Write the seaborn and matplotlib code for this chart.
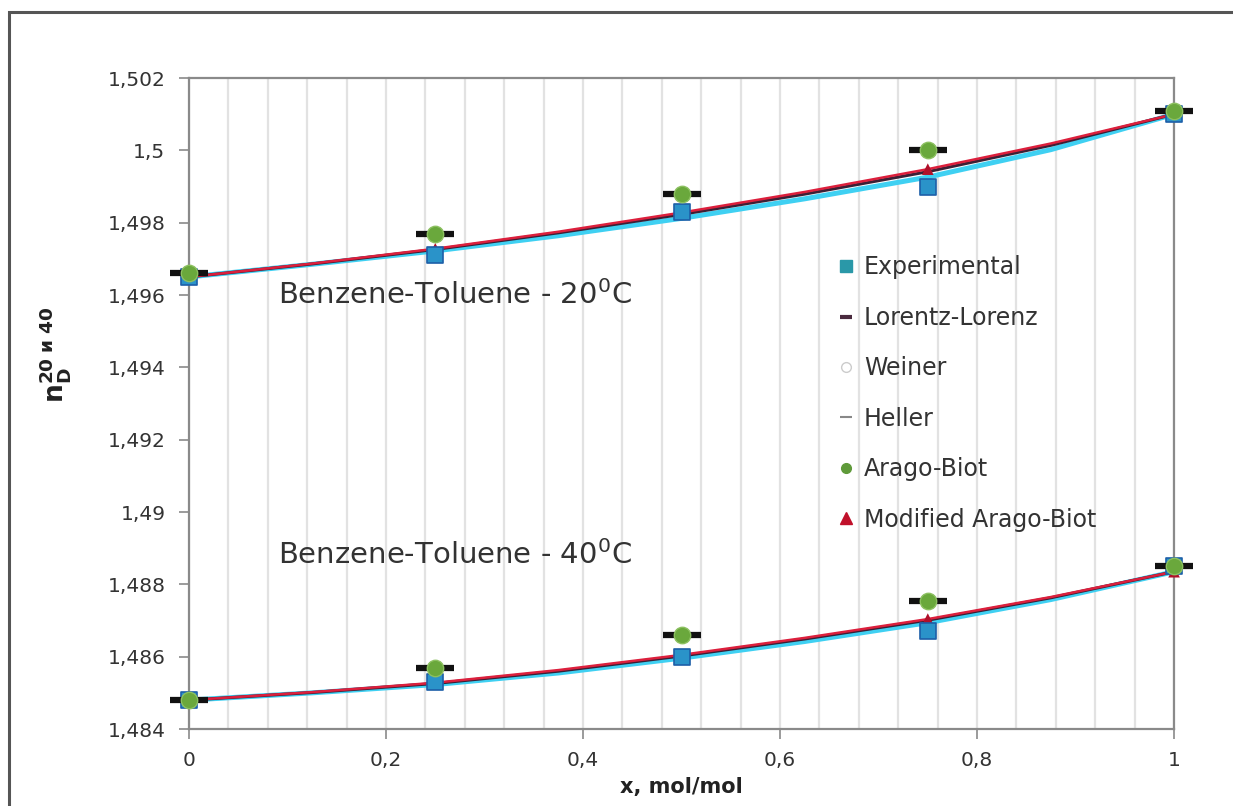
import matplotlib
matplotlib.use("Agg")
import matplotlib.pyplot as plt
import seaborn as sns
import pandas as pd
from matplotlib.lines import Line2D
from matplotlib.patches import Rectangle
from matplotlib.ticker import FixedLocator, FuncFormatter, MultipleLocator

# ---- data -------------------------------------------------------------
x_points = [0.0, 0.25, 0.5, 0.75, 1.0]

exp_20 = [1.4965, 1.4971, 1.4983, 1.4990, 1.5010]
arago_20 = [1.4966, 1.4977, 1.4988, 1.5000, 1.5011]
exp_40 = [1.4848, 1.4853, 1.4860, 1.4867, 1.4885]
arago_40 = [1.4848, 1.4857, 1.4866, 1.48755, 1.4885]

mod_arago_pts_20 = [1.4965, 1.49728, 1.49828, 1.49948, 1.5010]
mod_arago_pts_40 = [1.4848, 1.48528, 1.48605, 1.48704, 1.48835]

x_curve = [0.0, 0.125, 0.25, 0.375, 0.5, 0.625, 0.75, 0.875, 1.0]
mod_arago_20 = [1.4965, 1.49687, 1.49728, 1.49775, 1.49828, 1.49885, 1.49948, 1.50019, 1.5010]
lorentz_20 = [1.4965, 1.49686, 1.49726, 1.49772, 1.49823, 1.49879, 1.49941, 1.50014, 1.5010]
weiner_20 = [1.4965, 1.49685, 1.49722, 1.49764, 1.49812, 1.49866, 1.49926, 1.50002, 1.5010]
mod_arago_40 = [1.4848, 1.48502, 1.48528, 1.48563, 1.48605, 1.48652, 1.48704, 1.48765, 1.48835]
lorentz_40 = [1.4848, 1.48501, 1.48526, 1.48560, 1.48602, 1.48649, 1.48701, 1.48763, 1.48835]
weiner_40 = [1.4848, 1.48500, 1.48523, 1.48555, 1.48596, 1.48642, 1.48694, 1.48758, 1.48835]

y_ticks = [1.484, 1.486, 1.488, 1.490, 1.492, 1.494, 1.496, 1.498, 1.500, 1.502]
x_ticks = [0.0, 0.2, 0.4, 0.6, 0.8, 1.0]

series_names = ["Experimental", "Lorentz-Lorenz", "Weiner", "Heller",
                "Arago-Biot", "Modified Arago-Biot"]

# ---- style ------------------------------------------------------------
sns.set_theme(style="white")
plt.rcParams["font.family"] = ["DejaVu Sans"]
plt.rcParams["mathtext.fontset"] = "dejavusans"

C_EXP = "#2a93c9"
C_CYAN = "#3fd0f2"
C_DARK = "#3b2035"
C_RED = "#dc1f3c"
C_GREEN = "#6aa83c"
C_AXIS = "#8a8a8a"
C_TEXT = "#333333"

fig = plt.figure(figsize=(12.33, 8.06), dpi=100)
ax = fig.add_axes([0.1533, 0.0955, 0.7989, 0.8077])

curves = pd.DataFrame({"x": x_curve,
                       "w20": weiner_20, "l20": lorentz_20, "m20": mod_arago_20,
                       "w40": weiner_40, "l40": lorentz_40, "m40": mod_arago_40})
pts = pd.DataFrame({"x": x_points, "e20": exp_20, "a20": arago_20,
                    "e40": exp_40, "a40": arago_40,
                    "t20": mod_arago_pts_20, "t40": mod_arago_pts_40})

for t in ("20", "40"):
    sns.lineplot(data=curves, x="x", y="w" + t, ax=ax, color=C_CYAN, lw=3.6,
                 sort=False, estimator=None, zorder=3)
    sns.lineplot(data=curves, x="x", y="l" + t, ax=ax, color=C_DARK, lw=2.2,
                 sort=False, estimator=None, zorder=4)
    sns.lineplot(data=curves, x="x", y="m" + t, ax=ax, color=C_RED, lw=1.8,
                 sort=False, estimator=None, zorder=5)
    # model triangles sit on the fitted curve
    sns.scatterplot(data=pts, x="x", y="t" + t, ax=ax, marker="^", s=70,
                    color="#b0102a", edgecolor="none", zorder=6)
    # experimental squares
    sns.scatterplot(data=pts, x="x", y="e" + t, ax=ax, marker="s", s=130,
                    color=C_EXP, edgecolor="#1d5fa8", linewidth=1.2, zorder=7)
    # horizontal bars behind the Arago-Biot points
    ax.plot(pts["x"], pts["a" + t], ls="none", marker="_", ms=27, mew=4.5,
            color="#111111", zorder=8, clip_on=False)
    sns.scatterplot(data=pts, x="x", y="a" + t, ax=ax, marker="o", s=140,
                    color=C_GREEN, edgecolor="#8cc060", linewidth=1.0, zorder=9)

# markers at x = 0 and x = 1 overhang the plot frame
for coll in ax.collections:
    coll.set_clip_on(False)

# ---- axes -------------------------------------------------------------
ax.set_xlim(0, 1)
ax.set_ylim(1.484, 1.502)

ax.xaxis.set_major_locator(FixedLocator(x_ticks))
ax.yaxis.set_major_locator(FixedLocator(y_ticks))
ax.xaxis.set_minor_locator(MultipleLocator(0.04))


def comma_fmt(v, _pos):
    s = f"{v:.3f}".rstrip("0").rstrip(".")
    return s.replace(".", ",")


ax.xaxis.set_major_formatter(FuncFormatter(comma_fmt))
ax.yaxis.set_major_formatter(FuncFormatter(comma_fmt))

ax.grid(False)
ax.grid(which="both", axis="x", color="#e2e2e2", lw=1.6, zorder=0)
ax.set_axisbelow(True)

for side in ("left", "bottom", "top", "right"):
    ax.spines[side].set_visible(True)
    ax.spines[side].set_color(C_AXIS)
    ax.spines[side].set_linewidth(1.6)

ax.tick_params(which="major", direction="out", length=7, width=1.2,
               color=C_AXIS, labelsize=14.5, labelcolor=C_TEXT,
               left=True, bottom=True)
ax.tick_params(axis="y", pad=10)
ax.tick_params(axis="x", pad=9)
ax.tick_params(which="minor", length=0)

ax.set_xlabel("x, mol/mol", fontsize=15, fontweight="bold", color="#222222",
              labelpad=5)
ax.set_ylabel("")
fig.text(0.045, 0.56, r"$\mathbf{n_D^{20\ и\ 40}}$", rotation=90,
         fontsize=19, color="#222222", ha="center", va="center")

ax.text(0.09, 1.4960, "Benzene-Toluene - 20$^{0}$C", fontsize=21,
        color=C_TEXT, va="center", ha="left", zorder=10)
ax.text(0.09, 1.4888, "Benzene-Toluene - 40$^{0}$C", fontsize=21,
        color=C_TEXT, va="center", ha="left", zorder=10)

# ---- legend -----------------------------------------------------------
handles = [
    Line2D([], [], ls="none", marker="s", ms=8, color="#2a98a8"),
    Line2D([], [], ls="none", marker="_", ms=9, mew=3, color="#4a2a3e"),
    Line2D([], [], ls="none", marker="o", ms=7, mfc="white", mec="#cccccc"),
    Line2D([], [], ls="none", marker="_", ms=9, mew=1.5, color="#888888"),
    Line2D([], [], ls="none", marker="o", ms=7, color="#5f9a3a"),
    Line2D([], [], ls="none", marker="^", ms=8, color="#c0102a"),
]
leg = ax.legend(handles, series_names, loc="upper left",
                bbox_to_anchor=(0.648, 0.742), frameon=False, fontsize=17,
                labelspacing=1.12, handlelength=0.8, handletextpad=0.35,
                borderaxespad=0)
for txt in leg.get_texts():
    txt.set_color(C_TEXT)

# chart-area frame running off the right and bottom edges
fig.patches.append(Rectangle((9 / 1233, -0.05), 1.1, 1 - 12 / 806 + 0.05,
                             transform=fig.transFigure, fill=False,
                             edgecolor="#555555", lw=2.2, zorder=0))

fig.savefig("out.png", dpi=100)
